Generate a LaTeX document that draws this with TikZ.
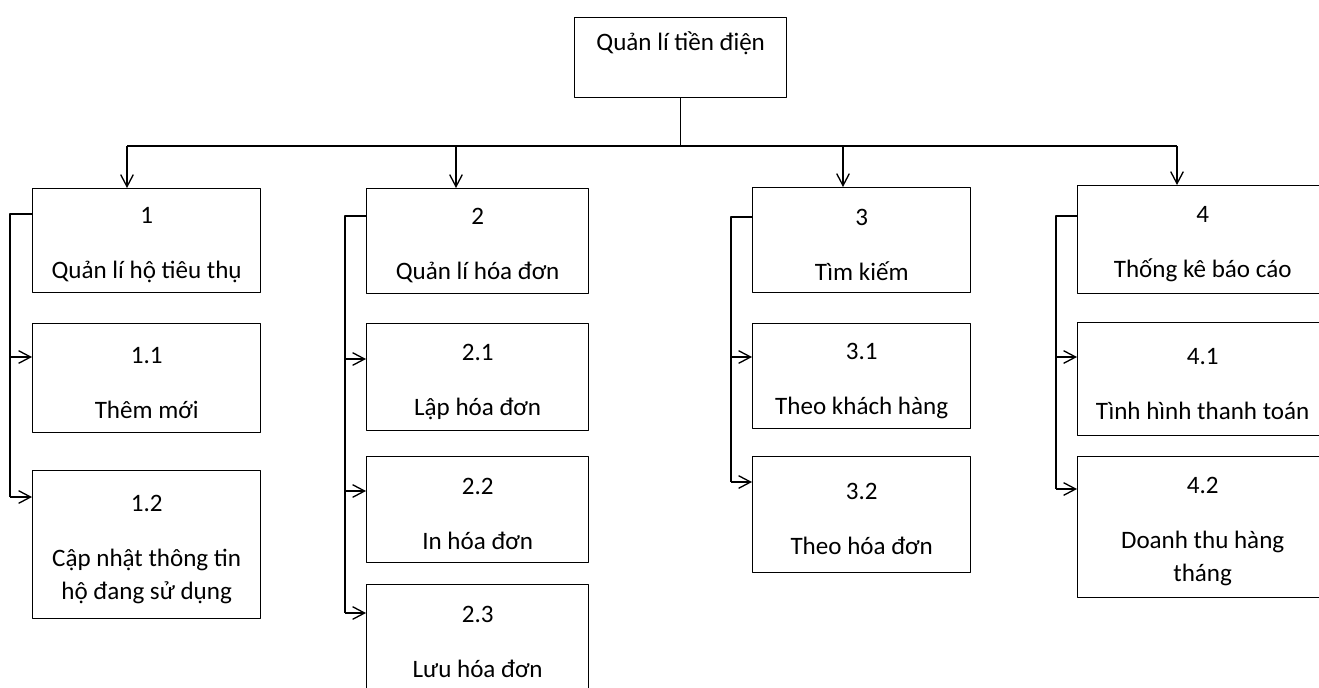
\documentclass[tikz,border=0pt]{standalone}
\usepackage{fontspec}
\setmainfont{Carlito}
\usetikzlibrary{arrows.meta}
\tikzset{
  hop/.style={draw, line width=1pt, inner sep=0pt, align=center, anchor=north west,
    font=\fontsize{18.8}{24.75}\selectfont},
  size/.style 2 args={minimum width=#1*0.75pt, minimum height=#2*0.75pt},
  arr/.style={-{Straight Barb[length=9pt,width=9.5pt]}},
}
\newcommand{\hang}[2]{\rule{0pt}{19pt}#1\\[16.5pt]#2}
\begin{document}
\begin{tikzpicture}[x=0.75pt,y=-0.75pt,line width=1pt,line join=round]
  \useasboundingbox (0,0) rectangle (1319,687);
  % goc
  \node[hop,size={212}{80}] (root) at (574,17) {Quản lí tiền điện\\\mbox{}};
  % cot 1
  \node[hop,size={228}{104}] (b1) at (32,188) {\hang{1}{Quản lí hộ tiêu thụ}};
  \node[hop,size={228}{109}] (b11) at (32,323) {\hang{1.1}{Thêm mới}};
  \node[hop,size={228}{148}] (b12) at (32,470) {\hang{1.2}{Cập nhật thông tin\\hộ đang sử dụng}};
  % cot 2
  \node[hop,size={222}{105}] (b2) at (366,188) {\hang{2}{Quản lí hóa đơn}};
  \node[hop,size={222}{107}] (b21) at (366,323) {\hang{2.1}{Lập hóa đơn}};
  \node[hop,size={222}{106}] (b22) at (366,456) {\hang{2.2}{In hóa đơn}};
  \node[hop,size={222}{105}] (b23) at (366,584) {\hang{2.3}{Lưu hóa đơn}};
  % cot 3
  \node[hop,size={218}{105}] (b3) at (752,187) {\hang{3}{Tìm kiếm}};
  \node[hop,size={218}{105}] (b31) at (752,323) {\hang{3.1}{Theo khách hàng}};
  \node[hop,size={218}{116}] (b32) at (752,456) {\hang{3.2}{Theo hóa đơn}};
  % cot 4
  \node[hop,size={250}{108}] (b4) at (1077,185) {\hang{4}{Thống kê báo cáo}};
  \node[hop,size={250}{113}] (b41) at (1077,322) {\hang{4.1}{Tình hình thanh toán}};
  \node[hop,size={250}{141}] (b42) at (1077,456) {\hang{4.2}{Doanh thu hàng\\tháng}};
  % duong noi
  \coordinate (bus) at (678,146);
  \draw (root.south) -- (root.south |- bus);
  \draw (127,146) -- (1177,146);
  \foreach \n/\x in {b1/127,b2/456,b3/843,b4/1177}
    \draw[arr] (\x,146) -- (\x,0 |- \n.north);
  \draw (b1.west |- 0,214) -| (10,497);
  \draw (b2.west |- 0,216) -| (345,613);
  \draw (b3.west |- 0,217) -| (731,482);
  \draw (b4.west |- 0,216) -| (1056,489);
  \foreach \n/\x/\y in {b11/10/357,b12/10/497,b21/345/359,b22/345/491,b23/345/613,
      b31/731/357,b32/731/482,b41/1056/357,b42/1056/489}
    \draw[arr] (\x,\y) -- (\n.west |- 0,\y);
\end{tikzpicture}
\end{document}
